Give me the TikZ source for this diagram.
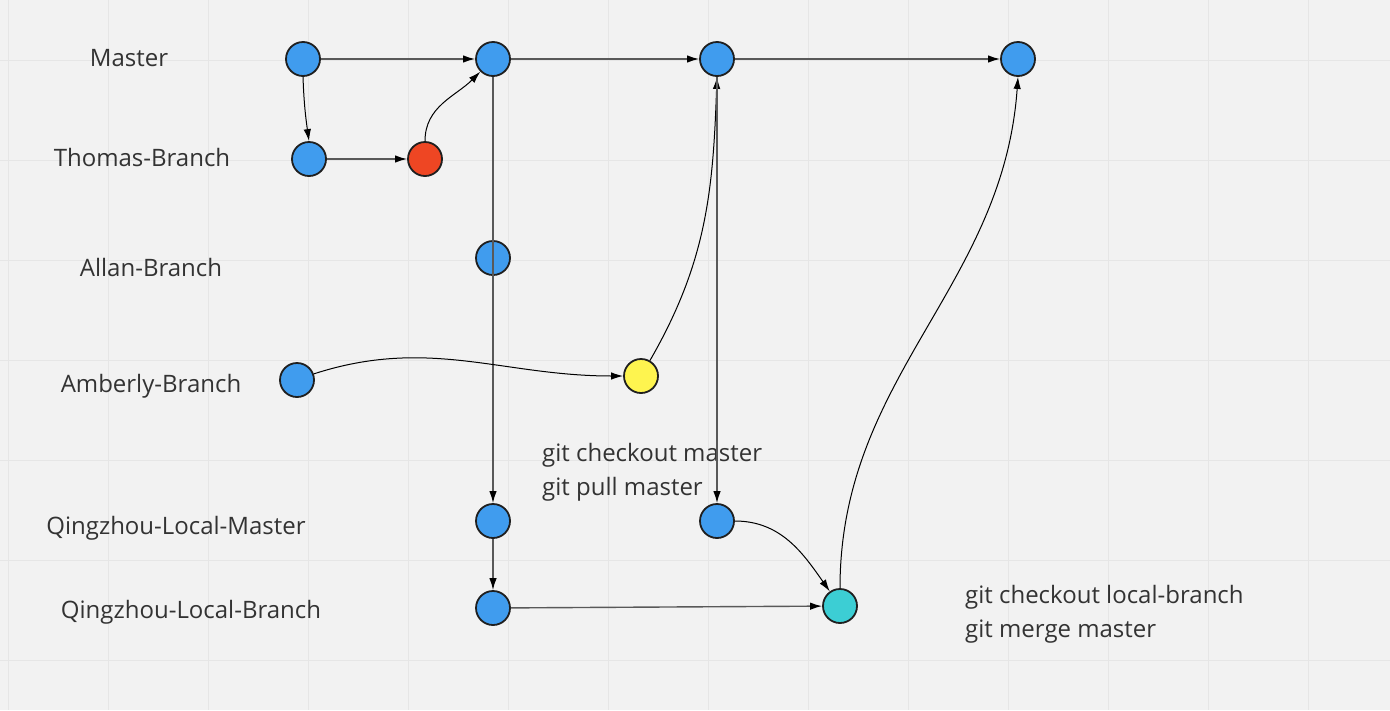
\documentclass[tikz,border=0pt]{standalone}
\usepackage{fontspec}
\setmainfont{Open Sans}
\usepackage{xcolor}
\usetikzlibrary{arrows.meta, positioning}
\definecolor{commitblue}{HTML}{409CEE}
\definecolor{commitred}{HTML}{EE4623}
\definecolor{commityellow}{HTML}{FEF44F}
\definecolor{committeal}{HTML}{3CCED4}
\definecolor{boardbg}{HTML}{F2F2F2}
\definecolor{boardgrid}{HTML}{E6E6E6}
\definecolor{inktext}{HTML}{333333}
\tikzset{
  commit/.style={circle, draw=black!88, line width=1.8pt, fill=commitblue,
    minimum size=34pt, inner sep=0pt},
  branchlabel/.style={font=\fontsize{24}{28}\selectfont, text=inktext,
    inner sep=0pt, anchor=base},
  gitnote/.style={font=\fontsize{24}{34}\selectfont, text=inktext,
    inner sep=0pt, align=left, anchor=base west},
  arrowline/.style={-{Latex[length=12pt,width=7.5pt]}, line width=1pt},
  trunkline/.style={-{Latex[length=12pt,width=7.5pt,black]}, line width=1.4pt, draw=black!65},
}

\begin{document}
\begin{tikzpicture}[x=1pt, y=1pt]
  \fill[boardbg] (0,0) rectangle (1390,-710);
  \useasboundingbox (0,0) rectangle (1390,-710);
  \foreach \gx in {8,108,...,1308}
    \draw[boardgrid, line width=1pt] (\gx,0) -- (\gx,-710);
  \foreach \gy in {60,160,...,660}
    \draw[boardgrid, line width=1pt] (0,-\gy) -- (1390,-\gy);

  \node[commit] (m1) at (303,-59) {};
  \node[commit] (m2) at (493,-59) {};
  \node[commit] (m3) at (717,-59) {};
  \node[commit] (m4) at (1018,-59) {};
  \node[commit] (t1) at (309,-159) {};
  \node[commit, fill=commitred] (t2) at (425,-159) {};
  \node[commit] (a1) at (493,-258) {};
  \node[commit] (am1) at (297,-380) {};
  \node[commit, fill=commityellow] (am2) at (641,-376) {};
  \node[commit] (qm1) at (493,-521) {};
  \node[commit] (qm2) at (717,-521) {};
  \node[commit] (qb1) at (493,-608) {};
  \node[commit, fill=committeal] (qb2) at (840,-606) {};

  \node[branchlabel] (lmaster) at (129,-66) {Master};
  \node[branchlabel] (lthomas) at (142,-166) {Thomas-Branch};
  \node[branchlabel] (lallan) at (151,-276) {Allan-Branch};
  \node[branchlabel] (lamberly) at (151,-392) {Amberly-Branch};
  \node[branchlabel] (llocalmaster) at (176,-534) {Qingzhou-Local-Master};
  \node[branchlabel] (llocalbranch) at (191,-618) {Qingzhou-Local-Branch};
  \node[gitnote] (pullnote) at (542,-495) {git checkout master\\git pull master};
  \node[gitnote] (mergenote) at (965,-637) {git checkout local-branch\\git merge master};

  \draw[trunkline] (m1) -- (m2);
  \draw[trunkline] (m2) -- (m3);
  \draw[trunkline] (m3) -- (m4);
  \draw[arrowline] (m1.south) to[out=-88,in=98] (t1.north);
  \draw[trunkline] (t1) -- (t2);
  \draw[arrowline] (t2.north) to[out=90,in=-135] (m2.south west);
  \draw[trunkline] (m2) -- (qm1);
  \draw[arrowline] (am1.20) to[out=18,in=180] (am2.west);
  \draw[arrowline] (am2.60) to[out=60,in=-92] (m3.south);
  \draw[trunkline] (m3) -- (qm2);
  \draw[trunkline] (qm1) -- (qb1);
  \draw[trunkline] (qb1) -- (qb2);
  \draw[arrowline] (qm2.east) to[out=0,in=125] (qb2.125);
  \draw[arrowline] (qb2.north) to[out=90,in=-94] (m4.south);
\end{tikzpicture}
\end{document}
